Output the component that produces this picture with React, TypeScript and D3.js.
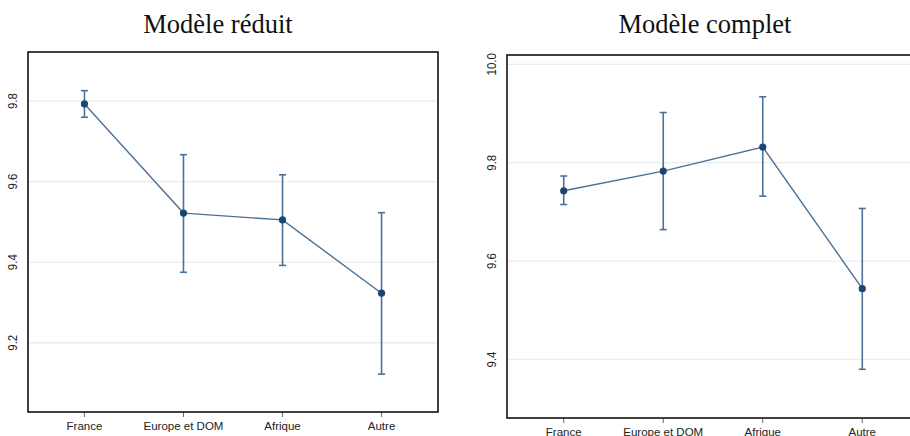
import { useEffect, useRef } from "react";
import * as d3 from "d3";

const categories = ["France", "Europe et DOM", "Afrique", "Autre"];

// Modèle réduit
const reducedMean = [9.793, 9.522, 9.505, 9.323];
const reducedLow = [9.760, 9.375, 9.392, 9.122];
const reducedHigh = [9.826, 9.667, 9.617, 9.523];
const reducedTicks = [9.2, 9.4, 9.6, 9.8];

// Modèle complet
const fullMean = [9.743, 9.783, 9.832, 9.544];
const fullLow = [9.715, 9.664, 9.732, 9.380];
const fullHigh = [9.773, 9.902, 9.934, 9.707];
const fullTicks = [9.4, 9.6, 9.8, 10.0];

const titles = ["Modèle réduit", "Modèle complet"];

const LINE = "#4d7196";
const DOT = "#1c4670";
const GRID = "#e6eeef";

type PanelSpec = {
  title: string;
  mean: number[];
  low: number[];
  high: number[];
  ticks: number[];
  domain: [number, number];
  left: number;
  top: number;
  width: number;
  height: number;
  titleX: number;
  tickFmt: (v: number) => string;
};

function drawPanel(svg: d3.Selection<SVGSVGElement, unknown, null, undefined>, p: PanelSpec) {
  const g = svg.append("g").attr("transform", `translate(${p.left},${p.top})`);

  const x = d3.scalePoint<string>()
    .domain(categories)
    .range([0, p.width])
    .padding(0.57);

  const y = d3.scaleLinear()
    .domain(p.domain)
    .range([p.height, 0]);

  // gridlines
  g.selectAll(".grid")
    .data(p.ticks)
    .enter()
    .append("line")
    .attr("x1", 0)
    .attr("x2", p.width)
    .attr("y1", d => y(d))
    .attr("y2", d => y(d))
    .attr("stroke", GRID)
    .attr("stroke-width", 1.3);

  // y tick labels (rotated, a bit condensed like the original)
  g.selectAll(".ylab")
    .data(p.ticks)
    .enter()
    .append("text")
    .attr("transform", d => `translate(-11,${y(d)}) rotate(-90) scale(0.88,1)`)
    .attr("text-anchor", "middle")
    .attr("font-family", "Liberation Sans, Arial, sans-serif")
    .attr("font-size", 13)
    .attr("fill", "#222")
    .text(d => p.tickFmt(d));

  // x ticks and labels
  g.selectAll(".xtick")
    .data(categories)
    .enter()
    .append("line")
    .attr("x1", d => x(d) || 0)
    .attr("x2", d => x(d) || 0)
    .attr("y1", p.height)
    .attr("y2", p.height + 5)
    .attr("stroke", "#666")
    .attr("stroke-width", 1);

  g.selectAll(".xlab")
    .data(categories)
    .enter()
    .append("text")
    .attr("x", d => x(d) || 0)
    .attr("y", p.height + 18)
    .attr("text-anchor", "middle")
    .attr("font-family", "Liberation Sans, Arial, sans-serif")
    .attr("font-size", 11.5)
    .attr("fill", "#222")
    .text(d => d);

  // connecting line
  const line = d3.line<number>()
    .x((_, i) => x(categories[i]) || 0)
    .y(d => y(d));

  g.append("path")
    .datum(p.mean)
    .attr("d", line)
    .attr("fill", "none")
    .attr("stroke", LINE)
    .attr("stroke-width", 1.4);

  // error bars
  const bars = g.selectAll(".err")
    .data(categories)
    .enter()
    .append("g");

  bars.append("line")
    .attr("x1", d => x(d) || 0)
    .attr("x2", d => x(d) || 0)
    .attr("y1", (_, i) => y(p.low[i]))
    .attr("y2", (_, i) => y(p.high[i]))
    .attr("stroke", LINE)
    .attr("stroke-width", 1.6);

  [p.low, p.high].forEach(arr => {
    bars.append("line")
      .attr("x1", d => (x(d) || 0) - 3.5)
      .attr("x2", d => (x(d) || 0) + 3.5)
      .attr("y1", (_, i) => y(arr[i]))
      .attr("y2", (_, i) => y(arr[i]))
      .attr("stroke", LINE)
      .attr("stroke-width", 1.6);
  });

  g.selectAll(".dot")
    .data(p.mean)
    .enter()
    .append("circle")
    .attr("cx", (_, i) => x(categories[i]) || 0)
    .attr("cy", d => y(d))
    .attr("r", 3.6)
    .attr("fill", DOT);

  // frame
  g.append("rect")
    .attr("x", 0)
    .attr("y", 0)
    .attr("width", p.width)
    .attr("height", p.height)
    .attr("fill", "none")
    .attr("stroke", "#111")
    .attr("stroke-width", 1.6);

  svg.append("text")
    .attr("x", p.titleX)
    .attr("y", 33)
    .attr("text-anchor", "middle")
    .attr("font-family", "Liberation Serif, serif")
    .attr("font-size", 26.5)
    .attr("fill", "#111")
    .text(p.title);
}

export default function App() {
  const svgRef = useRef<SVGSVGElement | null>(null);

  useEffect(() => {
    const svg = d3.select(svgRef.current as SVGSVGElement);
    svg.selectAll("*").remove();

    drawPanel(svg, {
      title: titles[0],
      mean: reducedMean,
      low: reducedLow,
      high: reducedHigh,
      ticks: reducedTicks,
      domain: [9.028, 9.922],
      left: 28,
      top: 52,
      width: 410,
      height: 360,
      titleX: 218,
      tickFmt: d3.format(".1f")
    });

    drawPanel(svg, {
      title: titles[1],
      mean: fullMean,
      low: fullLow,
      high: fullHigh,
      ticks: fullTicks,
      domain: [9.281, 10.019],
      left: 507,
      top: 55,
      width: 412,
      height: 363,
      titleX: 705,
      tickFmt: d3.format(".1f")
    });
  }, []);

  return (
    <div style={{ position: "absolute", left: 0, top: 0, background: "#fff" }}>
      <svg ref={svgRef} width={910} height={436} style={{ display: "block" }}></svg>
    </div>
  );
}
